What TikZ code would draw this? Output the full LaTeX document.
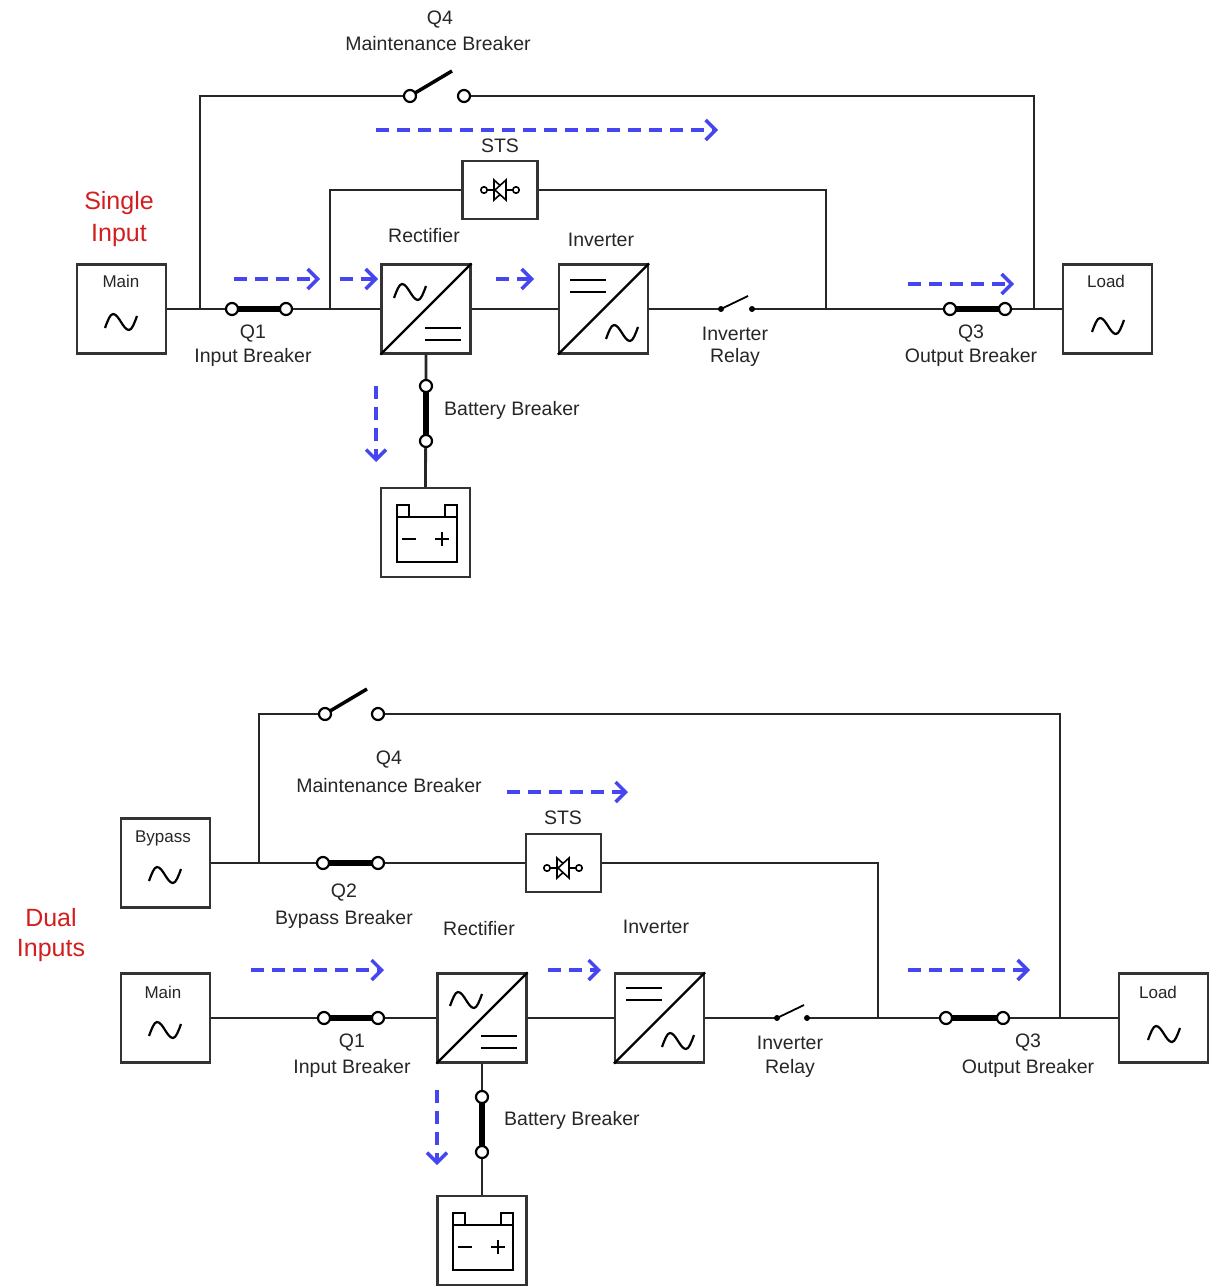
\documentclass[tikz,border=0pt]{standalone}
\usepackage{fontspec}
\setmainfont{Liberation Sans}
\usetikzlibrary{arrows.meta}
\definecolor{flow}{RGB}{70,70,240}
\definecolor{lbl}{RGB}{210,30,30}
\tikzset{
  wire/.style={line width=2.8pt,black!85},
  unitbox/.style={draw,line width=2.2pt,black!80,minimum width=89pt,minimum height=89pt,inner sep=0pt},
  stsbox/.style={draw,line width=2.2pt,black!80,minimum width=75pt,minimum height=58pt,inner sep=0pt},
  txt/.style={font=\fontsize{19.5}{23}\selectfont,text=black!85,inner sep=0pt},
  small/.style={font=\fontsize{17}{20}\selectfont,text=black!85,inner sep=0pt},
  redtxt/.style={font=\fontsize{25}{30}\selectfont,text=lbl,inner sep=0pt,align=center},
  flowarrow/.style={draw=flow,line width=3.4pt,dash pattern=on 13pt off 8pt,-{Straight Barb[length=10pt,width=20pt,line width=3.4pt]}},
  brk/.style={line width=5.5pt,black},
  term/.style={circle,draw,line width=2.2pt,fill=white,minimum size=12pt,inner sep=0pt},
  rdot/.style={circle,fill=black,minimum size=6pt,inner sep=0pt},
  tilde/.pic={\draw[line width=2.2pt] (-16,6) sin (-8,-8) cos (0,0) sin (8,8) cos (16,-6);},
  bars/.pic={\draw[line width=2.2pt] (-18,-6)--(18,-6) (-18,6)--(18,6);},
  sts/.pic={\draw[line width=1.6pt] (-14,0)--(14,0);
    \draw[line width=1.6pt,fill=white] (-6,-10)--(-6,10)--(5,0)--cycle;
    \draw[line width=1.6pt,fill=white] (6,-10)--(6,10)--(-5,0)--cycle;
    \draw[line width=1.6pt,fill=white] (-16,0) circle (3.2) (16,0) circle (3.2);},
  battery/.pic={\draw[line width=2.2pt] (-29,-18) rectangle (31,27);
    \draw[line width=2.2pt] (-29,-30) rectangle (-17,-18) (19,-30) rectangle (31,-18);
    \draw[line width=2.2pt] (-24,4)--(-10,4) (9,4)--(23,4) (16,-3)--(16,11);}
}
\begin{document}
\begin{tikzpicture}[x=1pt,y=-1pt]
\useasboundingbox (0,0) rectangle (1218,1287);
% ================= TOP =================
\node[unitbox] (main1) at (121.5,309) {};
\node[small] at (121,281) {Main};
\pic at (121,322) {tilde};
\node[unitbox] (rect1) at (426,309) {};
\draw[line width=2.2pt] (rect1.south west)--(rect1.north east);
\pic at (410,292) {tilde}; \pic at (443,334) {bars};
\node[unitbox] (inv1) at (603.5,309) {};
\draw[line width=2.2pt] (inv1.south west)--(inv1.north east);
\pic at (588,286) {bars}; \pic at (622,333) {tilde};
\node[unitbox] (load1) at (1107.5,309) {};
\node[small] at (1106,281) {Load};
\pic at (1108,326) {tilde};
\node[unitbox] (bat1) at (425.5,532.5) {};
\pic at (426,535) {battery};
\node[stsbox] (sts1) at (500,190) {};
\pic at (500,190) {sts};
% wires
\coordinate (j1) at (200,309); \coordinate (j2) at (330,309);
\coordinate (j3) at (826,309); \coordinate (j4) at (1034,309);
\draw[wire] (main1.east)--(rect1.west);
\draw[wire] (rect1.east)--(inv1.west);
\draw[wire] (inv1.east)--(721,309);
\draw[wire] (752,309)--(load1.west);
\draw[wire] (j1)--(200,96)--(410,96);
\draw[wire] (464,96)--(1034,96)--(j4);
\draw[wire] (j2)--(330,190)--(sts1.west);
\draw[wire] (sts1.east)--(826,190)--(j3);
\draw[wire] (rect1.south)--(bat1.north);
% breakers
\draw[brk] (232,309)--(286,309); \node[term] at (232,309) {}; \node[term] at (286,309) {};
\draw[brk] (950,309)--(1005,309); \node[term] at (950,309) {}; \node[term] at (1005,309) {};
\draw[brk] (426,386)--(426,441); \node[term] at (426,386) {}; \node[term] at (426,441) {};
\draw[line width=3.5pt] (410,96)--(452,71); \node[term] at (410,96) {}; \node[term] at (464,96) {};
\draw[line width=1.8pt] (721,309)--(748,296); \node[rdot] at (721,309) {}; \node[rdot] at (752,309) {};
% labels
\node[txt] at (440,20) {Q4}; \node[txt] at (438,44) {Maintenance Breaker};
\node[txt] at (500,146) {STS};
\node[txt] at (424,236) {Rectifier}; \node[txt] at (601,240) {Inverter};
\node[txt] at (253,334) {Q1}; \node[txt] at (253,357) {Input Breaker};
\node[txt] at (735,334) {Inverter}; \node[txt] at (735,357) {Relay};
\node[txt] at (971,334) {Q3}; \node[txt] at (971,357) {Output Breaker};
\node[txt,anchor=west] at (444,410) {Battery Breaker};
\node[redtxt] at (119,203) {Single}; \node[redtxt] at (119,235) {Input};
% flow
\draw[flowarrow] (376,130)--(718,130);
\draw[flowarrow] (234,279)--(320,279);
\draw[flowarrow] (340,279)--(378,279);
\draw[flowarrow] (496,279)--(534,279);
\draw[flowarrow] (908,284)--(1014,284);
\draw[flowarrow] (376,386)--(376,462);
% ================= BOTTOM =================
\node[unitbox] (byp2) at (165.5,863) {};
\node[small] at (163,838) {Bypass};
\pic at (165,875) {tilde};
\node[unitbox] (main2) at (165.5,1018) {};
\node[small] at (163,992) {Main};
\pic at (165,1030) {tilde};
\node[unitbox] (rect2) at (482,1018) {};
\draw[line width=2.2pt] (rect2.south west)--(rect2.north east);
\pic at (466,1000) {tilde}; \pic at (499,1042) {bars};
\node[unitbox] (inv2) at (659.5,1018) {};
\draw[line width=2.2pt] (inv2.south west)--(inv2.north east);
\pic at (644,994) {bars}; \pic at (678,1041) {tilde};
\node[unitbox] (load2) at (1163.5,1018) {};
\node[small] at (1158,992) {Load};
\pic at (1164,1034) {tilde};
\node[unitbox] (bat2) at (482,1240.5) {};
\pic at (482,1243) {battery};
\node[stsbox] (sts2) at (563.5,863) {};
\pic at (563,868) {sts};
\coordinate (k1) at (259,863); \coordinate (k2) at (878,1018); \coordinate (k3) at (1060,1018);
\draw[wire] (byp2.east)--(sts2.west);
\draw[wire] (sts2.east)--(878,863)--(k2);
\draw[wire] (k1)--(259,714)--(325,714);
\draw[wire] (378,714)--(1060,714)--(k3);
\draw[wire] (main2.east)--(rect2.west);
\draw[wire] (rect2.east)--(inv2.west);
\draw[wire] (inv2.east)--(777,1018);
\draw[wire] (807,1018)--(load2.west);
\draw[wire] (rect2.south)--(bat2.north);
\draw[brk] (323,863)--(378,863); \node[term] at (323,863) {}; \node[term] at (378,863) {};
\draw[brk] (324,1018)--(378,1018); \node[term] at (324,1018) {}; \node[term] at (378,1018) {};
\draw[brk] (946,1018)--(1003,1018); \node[term] at (946,1018) {}; \node[term] at (1003,1018) {};
\draw[brk] (482,1097)--(482,1152); \node[term] at (482,1097) {}; \node[term] at (482,1152) {};
\draw[line width=3.5pt] (325,714)--(367,689); \node[term] at (325,714) {}; \node[term] at (378,714) {};
\draw[line width=1.8pt] (777,1018)--(804,1005); \node[rdot] at (777,1018) {}; \node[rdot] at (807,1018) {};
\node[txt] at (389,760) {Q4}; \node[txt] at (389,786) {Maintenance Breaker};
\node[txt] at (563,818) {STS};
\node[txt] at (344,893) {Q2}; \node[txt] at (344,919) {Bypass Breaker};
\node[txt] at (479,929) {Rectifier}; \node[txt] at (656,927) {Inverter};
\node[txt] at (352,1043) {Q1}; \node[txt] at (352,1068) {Input Breaker};
\node[txt] at (790,1043) {Inverter}; \node[txt] at (790,1068) {Relay};
\node[txt] at (1028,1043) {Q3}; \node[txt] at (1028,1068) {Output Breaker};
\node[txt,anchor=west] at (504,1120) {Battery Breaker};
\node[redtxt] at (51,918) {Dual}; \node[redtxt] at (51,950) {Inputs};
\draw[flowarrow] (251,970)--(384,970);
\draw[flowarrow] (507,792)--(628,792);
\draw[flowarrow] (548,970)--(601,970);
\draw[flowarrow] (908,970)--(1030,970);
\draw[flowarrow] (437,1090)--(437,1165);
\end{tikzpicture}
\end{document}
